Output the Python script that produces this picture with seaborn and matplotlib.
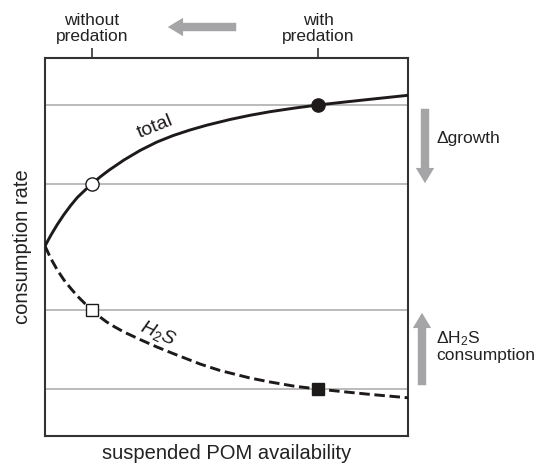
import pandas as pd
import seaborn as sns
import matplotlib.pyplot as plt

# curves (x: POM availability, y: consumption rate, 0-10 scale)
x_total = [0, 0.157, 0.339, 0.523, 0.708, 0.890, 1.121, 1.287, 1.534, 1.763, 2.176, 2.617,
           3.085, 3.534, 3.994, 4.455, 5.096, 5.647, 6.198, 6.887, 7.521, 8.264, 8.953, 10]
y_total = [5.026, 5.304, 5.595, 5.860, 6.098, 6.310, 6.521, 6.667, 6.865, 7.032, 7.302, 7.553,
           7.778, 7.950, 8.095, 8.222, 8.373, 8.484, 8.579, 8.677, 8.757, 8.836, 8.907, 9.013]
x_h2s = [0, 0.157, 0.339, 0.523, 0.708, 0.890, 1.121, 1.287, 1.534, 1.700, 1.901, 2.176,
         2.617, 3.085, 3.526, 4.270, 4.821, 5.647, 6.198, 6.887, 7.521, 8.264, 8.953, 10]
y_h2s = [5.026, 4.701, 4.392, 4.127, 3.907, 3.704, 3.484, 3.333, 3.135, 3.016, 2.897, 2.751,
         2.553, 2.354, 2.183, 1.905, 1.733, 1.534, 1.429, 1.315, 1.243, 1.167, 1.101, 1.011]

# the two states
state_x = [1.287, 7.521]
state_labels = ["without\npredation", "with\npredation"]
total_at_state = [6.667, 8.757]
h2s_at_state = [3.333, 1.243]

df_total = pd.DataFrame({"x": x_total, "y": y_total})
df_h2s = pd.DataFrame({"x": x_h2s, "y": y_h2s})

sns.set_style("white")
plt.rcParams["font.family"] = ["Liberation Sans", "DejaVu Sans"]
plt.rcParams["mathtext.fontset"] = "custom"
plt.rcParams["mathtext.rm"] = "Liberation Sans"
plt.rcParams["mathtext.it"] = "Liberation Sans:italic"

W, H = 540, 467
ink = "#1e1a1a"
fig = plt.figure(figsize=(5.4, 4.67), dpi=100)
ax = fig.add_axes([45 / W, (H - 436) / H, 363 / W, 378 / H])

for yv in total_at_state + h2s_at_state:
    ax.axhline(yv, color="#a8a8a8", lw=1.1, zorder=1)

sns.lineplot(data=df_total, x="x", y="y", ax=ax, color=ink, lw=2.1, zorder=3)
sns.lineplot(data=df_h2s, x="x", y="y", ax=ax, color=ink, lw=2.1, zorder=3)
ax.lines[-1].set_dashes([3.6, 1.6])
for ln in ax.lines[-2:]:
    ln.set_solid_joinstyle("round")
    ln.set_dash_joinstyle("round")

ax.plot(state_x[0], total_at_state[0], "o", ms=9.5, mfc="white", mec=ink, mew=1.0, zorder=4)
ax.plot(state_x[1], total_at_state[1], "o", ms=9.5, mfc=ink, mec=ink, zorder=4)
ax.plot(state_x[0], h2s_at_state[0], "s", ms=8.5, mfc="white", mec=ink, mew=1.0, zorder=4)
ax.plot(state_x[1], h2s_at_state[1], "s", ms=8.5, mfc=ink, mec=ink, zorder=4)

ax.text(3.03, 8.17, "total", rotation=22, fontsize=14, ha="center", va="center", color=ink)
ax.text(3.1, 2.72, "$\\mathit{H_2S}$", rotation=-24, fontsize=14, ha="center", va="center",
        color=ink)

ax.set_xlim(0, 10)
ax.set_ylim(0, 10)
ax.set_yticks([])
ax.set_xticks([])
ax.set_xlabel("suspended POM availability", fontsize=14.5, color="#222222", labelpad=6)
ax.set_ylabel("consumption rate", fontsize=14.5, color="#222222", labelpad=9)

top = ax.secondary_xaxis("top")
top.set_xticks(state_x)
top.set_xticklabels(state_labels, fontsize=12.5, color="#222222", linespacing=1.1)
top.tick_params(length=7, width=1.2, color="#333333", pad=3)
top.spines["top"].set_visible(False)

for s in ax.spines.values():
    s.set_color("#333333")
    s.set_linewidth(1.5)

arrow_kw = dict(arrowstyle="simple,head_width=1.2,head_length=1.0,tail_width=0.55",
                mutation_scale=11, color="#a5a5a8", lw=0)


def fig_px(x, y):
    return (x / W, (H - y) / H)


for tip, tail in [((165, 27), (239, 27)), ((425, 186), (425, 106)), ((422, 310), (422, 388))]:
    ax.annotate("", xy=fig_px(*tip), xytext=fig_px(*tail), xycoords="figure fraction",
                textcoords="figure fraction", arrowprops=arrow_kw, annotation_clip=False)

fig.text(*fig_px(436, 139), "\u0394growth", fontsize=12.5, ha="left", va="center", color="#222222")
fig.text(*fig_px(436, 346), "\u0394H$_2$S\nconsumption", fontsize=12.5, ha="left", va="center",
         color="#222222", linespacing=1.0)

fig.savefig("out.png", dpi=100)
